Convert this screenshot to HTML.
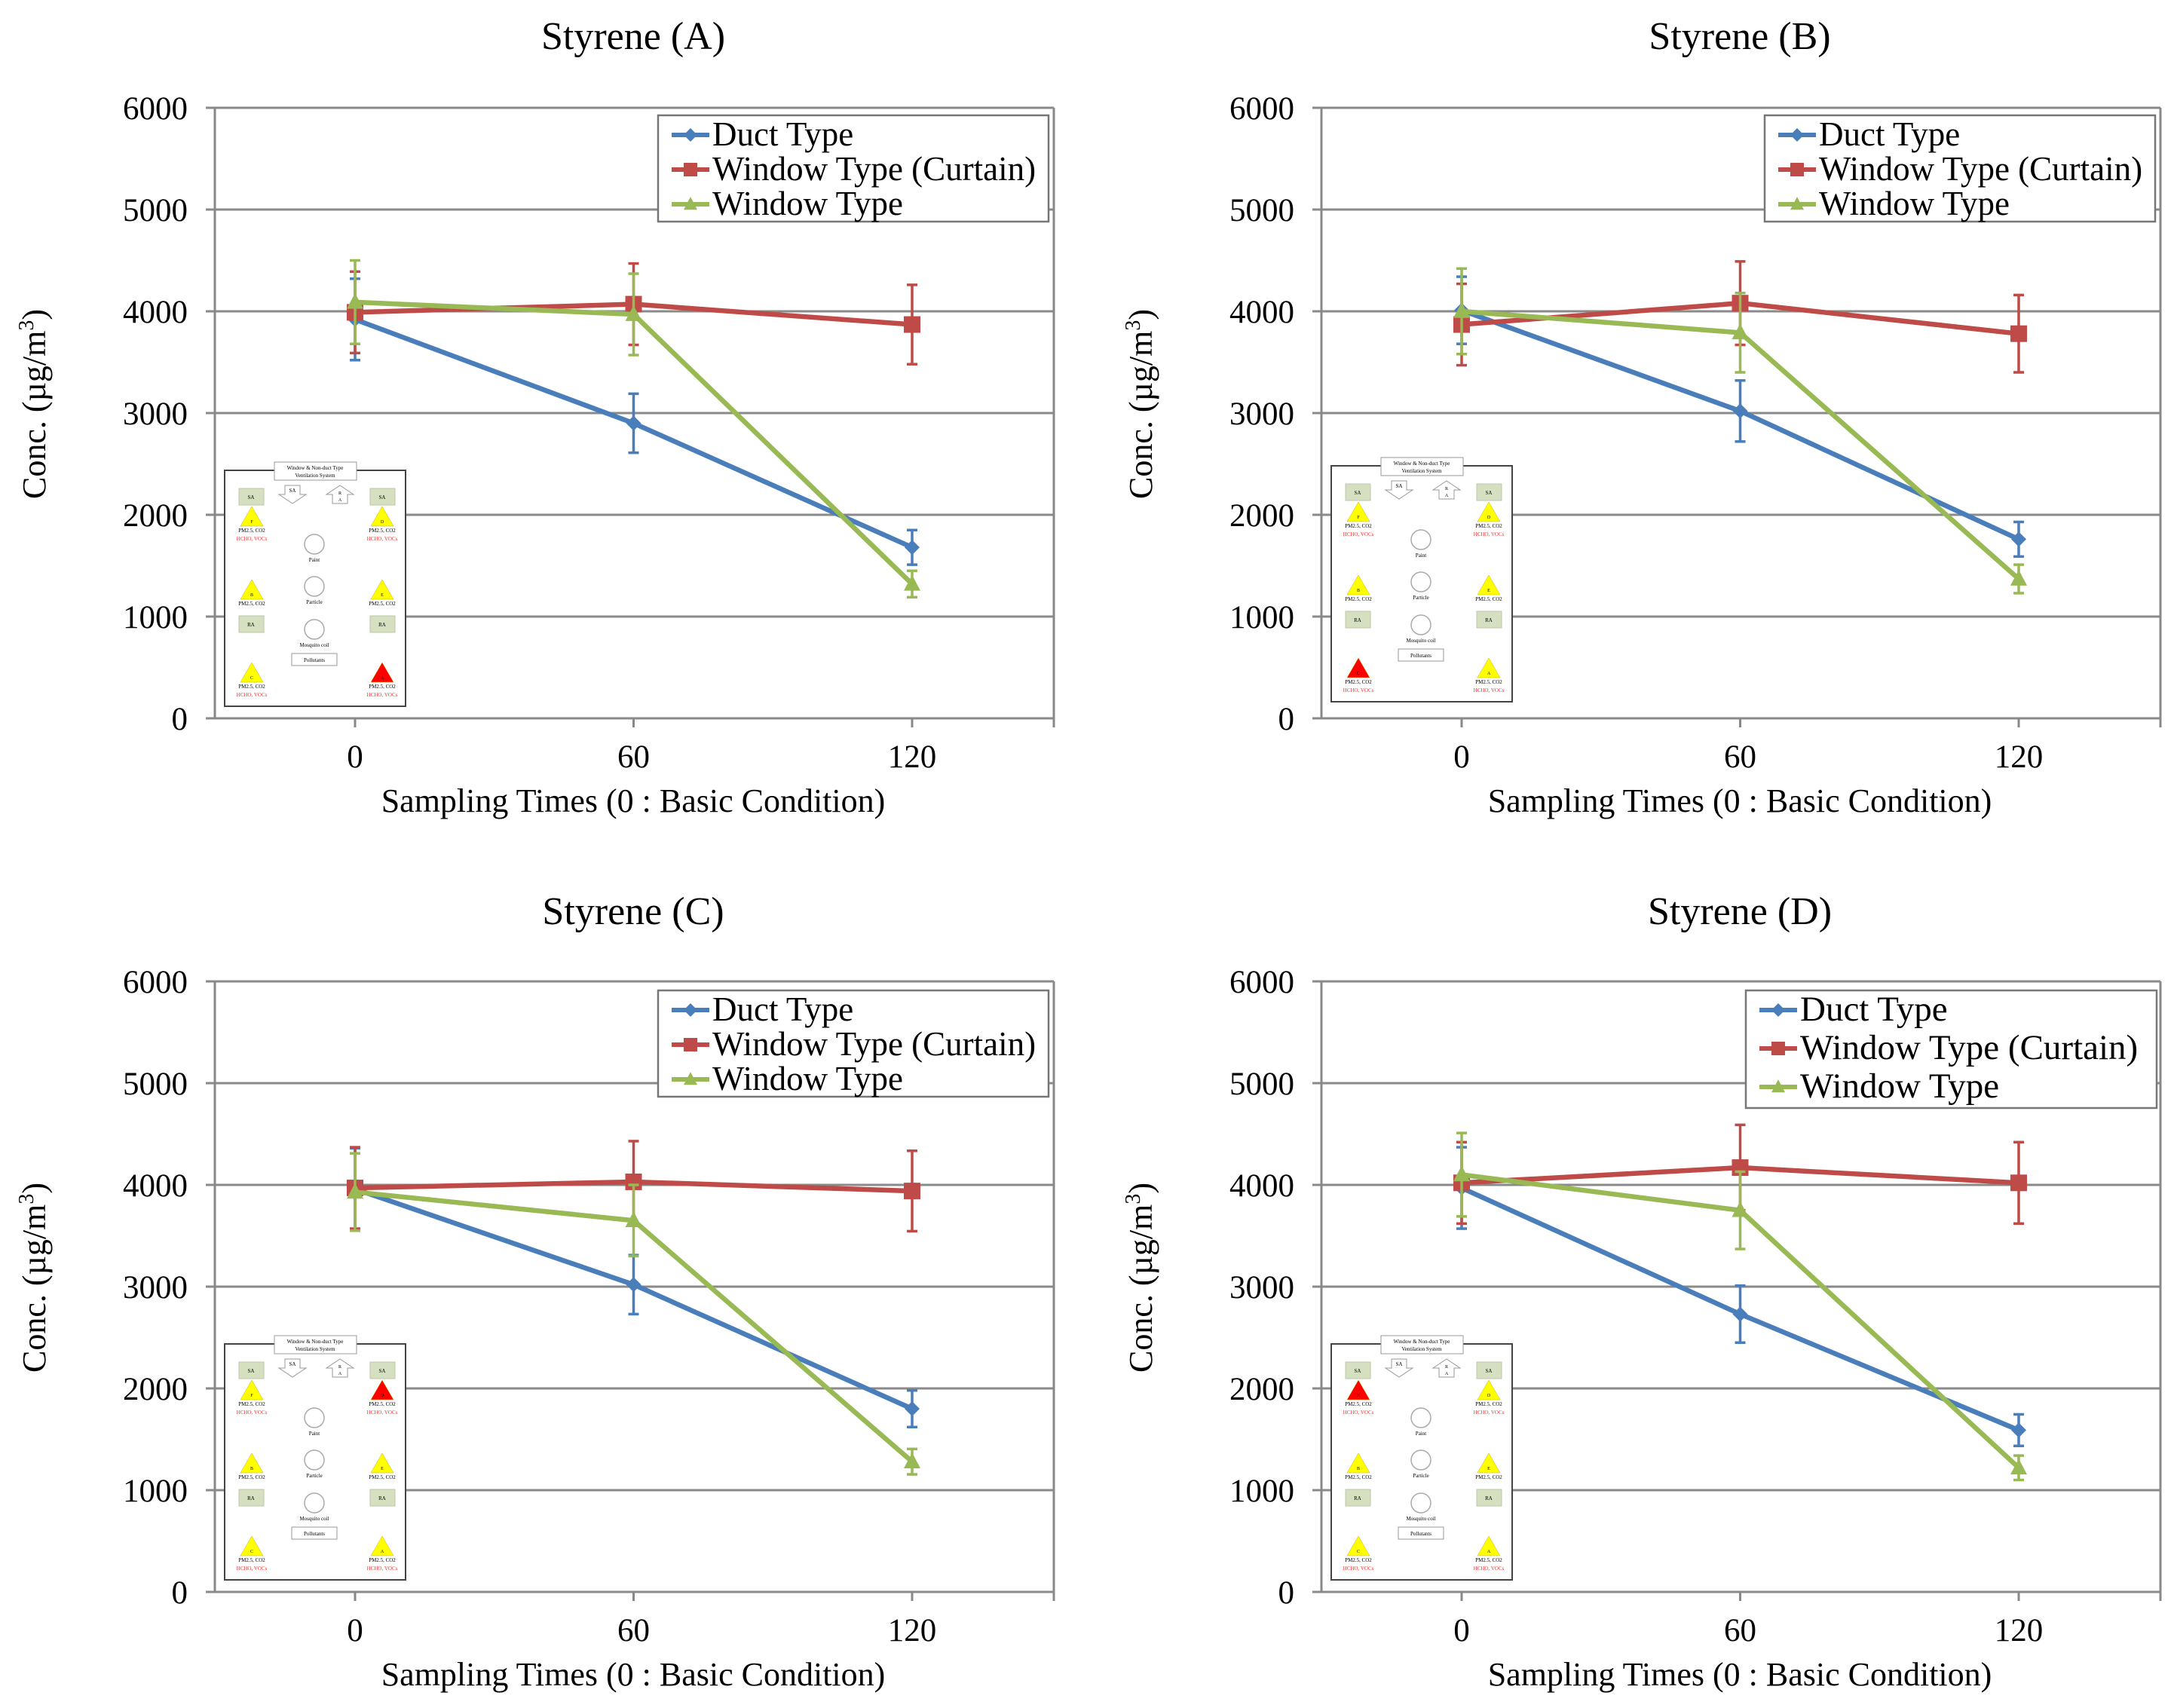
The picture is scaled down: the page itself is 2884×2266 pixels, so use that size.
<!DOCTYPE html>
<html><head><meta charset="utf-8"><style>
html,body{margin:0;padding:0;background:#fff;}
svg{display:block;font-family:"Liberation Serif",serif;}
</style></head><body>
<svg id="chart" width="2884" height="2266" viewBox="0 0 2884 2266" xmlns="http://www.w3.org/2000/svg"></svg>
<script>
const panelTitles = ["Styrene (A)", "Styrene (B)", "Styrene  (C)", "Styrene (D)"];
const categories = [0, 60, 120];
const yTicks = [0, 1000, 2000, 3000, 4000, 5000, 6000];
const seriesNames = ["Duct Type", "Window Type (Curtain)", "Window Type"];
// values per panel [duct, curtain, window]
const ductA = [3920, 2900, 1680], ductAErr = [400, 290, 170];
const curtA = [3990, 4070, 3870], curtAErr = [400, 400, 390];
const winA  = [4090, 3970, 1320], winAErr  = [410, 400, 130];
const ductB = [4010, 3020, 1760], ductBErr = [330, 300, 170];
const curtB = [3870, 4080, 3780], curtBErr = [400, 410, 380];
const winB  = [4000, 3790, 1370], winBErr  = [420, 390, 140];
const ductC = [3960, 3020, 1800], ductCErr = [400, 290, 180];
const curtC = [3970, 4030, 3940], curtCErr = [400, 400, 395];
const winC  = [3930, 3650, 1280], winCErr  = [380, 350, 125];
const ductD = [3970, 2730, 1590], ductDErr = [400, 280, 155];
const curtD = [4020, 4170, 4020], curtDErr = [400, 420, 400];
const winD  = [4100, 3750, 1220], winDErr  = [410, 380, 120];
const redSensor = ["br", "bl", "tr", "tl"];

const NS = "http://www.w3.org/2000/svg";
const svg = document.getElementById("chart");
function mk(tag, attrs, parent, text) {
  const e = document.createElementNS(NS, tag);
  for (const k in attrs) e.setAttribute(k, attrs[k]);
  if (text !== undefined) e.textContent = text;
  (parent || svg).appendChild(e);
  return e;
}
const colors = ["#4a7ebb", "#be4b48", "#98b954"];
const panelData = [
  [[ductA, ductAErr], [curtA, curtAErr], [winA, winAErr]],
  [[ductB, ductBErr], [curtB, curtBErr], [winB, winBErr]],
  [[ductC, ductCErr], [curtC, curtCErr], [winC, winCErr]],
  [[ductD, ductDErr], [curtD, curtDErr], [winD, winDErr]]
];
const offsets = [[0, 0], [1468, 0], [0, 1159], [1468, 1159]];

function marker(g, k, x, y, c, s) {
  let m;
  if (k === 0) m = mk("polygon", {points: `${x},${y-s} ${x+s},${y} ${x},${y+s} ${x-s},${y}`, fill: c}, g);
  else if (k === 1) m = mk("rect", {x: x-s, y: y-s, width: 2*s, height: 2*s, fill: c}, g);
  else m = mk("polygon", {points: `${x},${y-s*1.1} ${x+s},${y+s*0.8} ${x-s},${y+s*0.8}`, fill: c}, g);
  return m;
}

function inset(g, ox, oy, red) {
  const ig = mk("g", {transform: `translate(${ox},${oy})`}, g);
  
  
  mk("rect", {x: 0, y: 0, width: 240, height: 313, fill: "#fff", stroke: "#444", "stroke-width": 2}, ig);
  mk("rect", {x: 66, y: -11, width: 109, height: 24, fill: "#fff", stroke: "#999", "stroke-width": 1}, ig);
  mk("text", {x: 120, y: -1, "font-size": 7, "text-anchor": "middle"}, ig, "Window & Non-duct Type");
  mk("text", {x: 120, y: 9, "font-size": 7, "text-anchor": "middle"}, ig, "Ventilation System");
  mk("polygon", {points: "80,20 100,20 100,32 108,32 90,44 72,32 80,32", fill: "#fff", stroke: "#999"}, ig);
  mk("text", {x: 90, y: 29, "font-size": 7, "text-anchor": "middle"}, ig, "SA");
  mk("polygon", {points: "143,44 163,44 163,32 171,32 153,20 135,32 143,32", fill: "#fff", stroke: "#999"}, ig);
  mk("text", {x: 153, y: 32, "font-size": 6, "text-anchor": "middle"}, ig, "R");
  mk("text", {x: 153, y: 41, "font-size": 6, "text-anchor": "middle"}, ig, "A");
  [[19, 24, "SA"], [193, 24, "SA"], [19, 193, "RA"], [193, 193, "RA"]].forEach(b => {
    mk("rect", {x: b[0], y: b[1], width: 33, height: 22, fill: "#d5e0c0", stroke: "#bcc9a8"}, ig);
    mk("text", {x: b[0] + 16, y: b[1] + 14, "font-size": 7, "text-anchor": "middle"}, ig, b[2]);
  });
  const tris = [["tl", 36, 48, "F", true], ["tr", 209, 48, "D", true], ["ml", 36, 145, "B", false], ["mr", 209, 145, "E", false], ["bl", 36, 255, "C", true], ["br", 209, 255, "A", true]];
  tris.forEach(t => {
    const c = t[0] === red ? "#ff0000" : "#ffff00";
    mk("polygon", {points: `${t[1]},${t[2]} ${t[1]+15},${t[2]+26} ${t[1]-15},${t[2]+26}`, fill: c, stroke: "#c8b400", "stroke-width": 0.5}, ig);
    mk("text", {x: t[1], y: t[2] + 22, "font-size": 6, "text-anchor": "middle"}, ig, t[3]);
    mk("text", {x: t[1], y: t[2] + 34, "font-size": 7, "text-anchor": "middle"}, ig, "PM2.5, CO2");
    if (t[4]) mk("text", {x: t[1], y: t[2] + 45, "font-size": 7, "text-anchor": "middle", fill: "#ff3030"}, ig, "HCHO, VOCs");
  });
  [[98, "Paint"], [154, "Particle"], [211, "Mosquito coil"]].forEach(c => {
    mk("circle", {cx: 119, cy: c[0], r: 13, fill: "#fff", stroke: "#aaa", "stroke-width": 1.5}, ig);
    mk("text", {x: 119, y: c[0] + 23, "font-size": 7, "text-anchor": "middle"}, ig, c[1]);
  });
  mk("rect", {x: 89, y: 243, width: 60, height: 16, fill: "#fff", stroke: "#999"}, ig);
  mk("text", {x: 119, y: 254, "font-size": 7, "text-anchor": "middle"}, ig, "Pollutants");
}

panelData.forEach((pd, p) => {
  const [dx, dy] = offsets[p];
  const L = 285 + dx, R = 1398 + dx, T = 143 + dy, B = 953 + dy;
  const xs = v => 471 + dx + (v / 60) * 369.5;
  const ys = v => B - (v / 6000) * (B - T);
  const g = mk("g", {});
  
  
  const t = mk("text", {x: 840 + dx, y: 65 + dy + (p >= 2 ? 2 : 0), "font-size": 52, "text-anchor": "middle"}, g, panelTitles[p]);
  
  
  yTicks.forEach(v => {
    const y = ys(v);
    mk("line", {x1: L - 12, x2: R, y1: y, y2: y, stroke: "#8a8a8a", "stroke-width": 3}, g);
    const tl = mk("text", {x: L - 36, y: y + 15, "font-size": 43, "text-anchor": "end"}, g, String(v));
    
    
  });
  mk("line", {x1: L, x2: L, y1: T, y2: B, stroke: "#888", "stroke-width": 3}, g);
  mk("line", {x1: R, x2: R, y1: T, y2: B + 12, stroke: "#888", "stroke-width": 3}, g);
  categories.forEach(c => {
    const x = xs(c);
    mk("line", {x1: x, x2: x, y1: B, y2: B + 12, stroke: "#888", "stroke-width": 3}, g);
    const xl = mk("text", {x: x, y: B + 65, "font-size": 43, "text-anchor": "middle"}, g, String(c));
    
    
  });
  const xt = mk("text", {x: 840 + dx, y: 1077 + dy, "font-size": 44, "text-anchor": "middle"}, g, "Sampling Times (0 : Basic Condition)");
  
  
  const yt = mk("text", {x: 0, y: 0, "font-size": 44, "text-anchor": "middle", transform: `translate(${60 + dx},${536 + dy}) rotate(-90)`}, g);
  
  
  mk("tspan", {}, yt, "Conc.  (µg/m");
  mk("tspan", {dy: -16, "font-size": 28}, yt, "3");
  mk("tspan", {dy: 16}, yt, ")");
  inset(g, 298 + dx, 624 + dy + (p === 1 ? -6 : 0), redSensor[p]);
  pd.forEach((s, k) => {
    const [vals, errs] = s;
    const sg = mk("g", {}, g);
    
    
    vals.forEach((v, i) => {
      const x = xs(categories[i]);
      mk("line", {x1: x, x2: x, y1: ys(v + errs[i]), y2: ys(v - errs[i]), stroke: colors[k], "stroke-width": 3.5}, sg);
      [v + errs[i], v - errs[i]].forEach(e => mk("line", {x1: x - 7, x2: x + 7, y1: ys(e), y2: ys(e), stroke: colors[k], "stroke-width": 3.5}, sg));
    });
    mk("polyline", {points: vals.map((v, i) => xs(categories[i]) + "," + ys(v)).join(" "), fill: "none", stroke: colors[k], "stroke-width": 6.5}, sg);
    vals.forEach((v, i) => {
      const m = marker(sg, k, xs(categories[i]), ys(v), colors[k], k === 0 ? 10 : 11);
      
      
    });
  });
  const lg = mk("g", {}, g);
  
  
  const big = p === 3;
  const lx = (big ? 848 : 873) + dx, ly = 153 + dy + (p >= 2 ? 2 : 0);
  const lw = big ? 545 : 518, lh = big ? 156 : 141, rs = big ? 51 : 46;
  mk("rect", {x: lx, y: ly, width: lw, height: lh, fill: "#fff", stroke: "#777", "stroke-width": 2.5}, lg);
  seriesNames.forEach((n, k) => {
    const by = ly + 26 + k * rs;
    const e = mk("g", {}, lg);
    
    
    mk("line", {x1: lx + 18, x2: lx + 68, y1: by, y2: by, stroke: colors[k], "stroke-width": 6}, e);
    marker(e, k, lx + 43, by, colors[k], 9);
    mk("text", {x: lx + 72, y: by + 14, "font-size": big ? 47 : 45}, e, n);
  });
});
</script>
</body></html>
